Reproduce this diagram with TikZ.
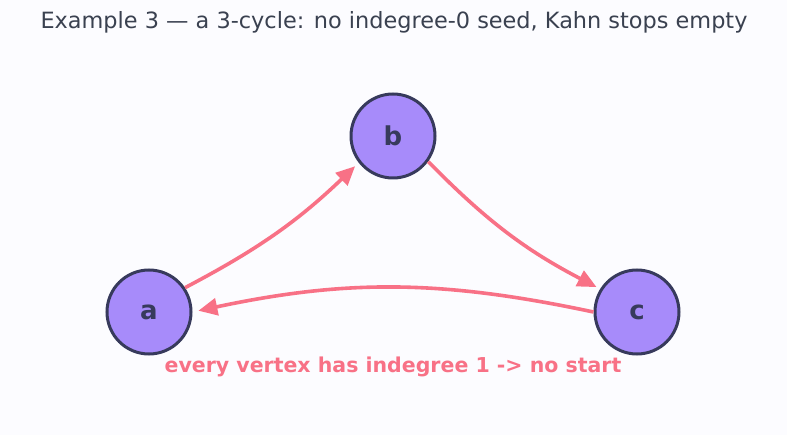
\documentclass[tikz,border=0pt]{standalone}
\usepackage{fontspec}
\setmainfont{DejaVu Sans}
\usetikzlibrary{arrows.meta}
\definecolor{bg}{HTML}{FCFCFF}
\definecolor{vfill}{HTML}{A78BFA}
\definecolor{vline}{HTML}{373A5C}
\definecolor{edgec}{HTML}{F87186}
\definecolor{titlec}{HTML}{3A4150}
\tikzset{
  vertex/.style={circle, draw=vline, fill=vfill, line width=3pt, minimum size=84pt, inner sep=0pt,
    font=\fontsize{26}{28}\selectfont\bfseries, text=vline},
  arc/.style={draw=edgec, line width=3.6pt, -{Triangle[length=19pt,width=17pt]}}
}
\begin{document}
\begin{tikzpicture}[x=1pt,y=-1pt]
\fill[bg] (0,0) rectangle (787,435);
\useasboundingbox (0,0) rectangle (787,435);
\node[text=titlec, font=\fontsize{22.4}{26}\selectfont] (title) at (394,22) {Example 3 — a 3-cycle: no indegree-0 seed, Kahn stops empty};
\node[vertex] (a) at (149,312) {a};
\node[vertex] (b) at (393,136) {b};
\node[vertex] (c) at (637,312) {c};
\draw[arc, shorten >=5pt] (a.34) to[bend right=8] (b.218);
\draw[arc, shorten >=4pt] (b.-36) to[bend right=9] (c.148);
\draw[arc, shorten >=6pt] (c.180) to[bend right=12] (a.0);
\node[text=edgec, font=\fontsize{20.5}{23}\selectfont\bfseries] (note) at (393,367) {every vertex has indegree 1 -> no start};
\end{tikzpicture}
\end{document}
